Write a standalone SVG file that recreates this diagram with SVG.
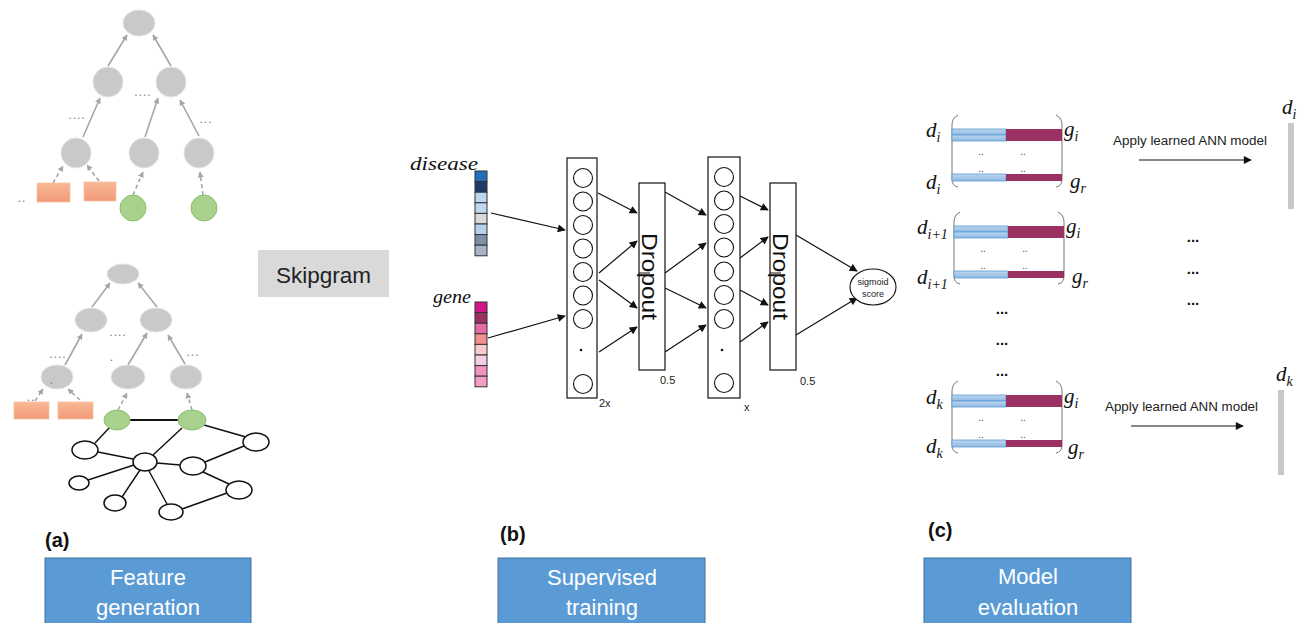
<svg xmlns="http://www.w3.org/2000/svg" width="1307" height="623" viewBox="0 0 1307 623">
<style>
.gn{fill:#c8c9cb;stroke:#e2e3e4;stroke-width:1}
.rc{fill:url(#salmon);stroke:#f7c2a6;stroke-width:0.8}
.gr{fill:#a9d18e;stroke:#8cbf6e;stroke-width:1}
.ga{stroke:#a6a6a6;stroke-width:1.6;fill:none;marker-end:url(#mg)}
.gd{stroke:#a6a6a6;stroke-width:1.6;fill:none;stroke-dasharray:4 3;marker-end:url(#mg)}
.dots{font-family:"Liberation Sans",Arial,sans-serif;font-size:12px;fill:#777;letter-spacing:1px;text-anchor:middle}
.wn{fill:#fff;stroke:#111;stroke-width:1.5}
.ed{stroke:#111;stroke-width:1.4;fill:none}
.box{fill:#fff;stroke:#111;stroke-width:1.2}
.cir{fill:#fff;stroke:#111;stroke-width:1.1}
.ba{stroke:#111;stroke-width:1.2;fill:none;marker-end:url(#mb)}
.sans{font-family:"Liberation Sans",Arial,sans-serif}
.math{font-family:"Liberation Serif","Times New Roman",serif;font-style:italic;fill:#111}
.blue{fill:url(#lb);stroke:#5b9bd5;stroke-width:0.8}
.maroon{fill:#9b3063}
.brk{fill:none;stroke:#777;stroke-width:1}
.sd{font-family:"Liberation Sans",Arial,sans-serif;font-size:10px;fill:#444;text-anchor:middle}
.ell{font-family:"Liberation Sans",Arial,sans-serif;font-size:15px;font-weight:bold;fill:#111;text-anchor:middle}
.stage{fill:#5b9bd5;stroke:#41719c;stroke-width:1}
.stxt{font-family:"Liberation Sans",Arial,sans-serif;font-size:22px;fill:#fff;text-anchor:middle}
.lbl{font-family:"Liberation Sans",Arial,sans-serif;font-size:20px;font-weight:bold;fill:#111}
</style>
<defs>
<marker id="mg" viewBox="0 0 10 10" refX="9" refY="5" markerWidth="6" markerHeight="6" markerUnits="userSpaceOnUse" orient="auto"><path d="M0,0 L10,5 L0,10 z" fill="#a6a6a6"/></marker>
<marker id="mb" viewBox="0 0 10 10" refX="9" refY="5" markerWidth="9" markerHeight="8" markerUnits="userSpaceOnUse" orient="auto"><path d="M0,0 L10,5 L0,10 z" fill="#111"/></marker>
<linearGradient id="salmon" x1="0" y1="0" x2="0" y2="1"><stop offset="0" stop-color="#f8b896"/><stop offset="1" stop-color="#f29a78"/></linearGradient>
<linearGradient id="lb" x1="0" y1="0" x2="0" y2="1"><stop offset="0" stop-color="#bdd7ee"/><stop offset="1" stop-color="#8fb8e2"/></linearGradient>
<g id="matrix">
<path class="brk" d="M6,0 Q0,3 0,10 L0,64 Q0,71 6,72"/>
<path class="brk" d="M104,0 Q110,3 110,10 L110,64 Q110,71 104,72"/>
<rect class="blue" x="0" y="14" width="54" height="6"/>
<rect class="blue" x="0" y="20" width="54" height="6"/>
<rect class="maroon" x="54" y="14" width="56" height="12"/>
<rect class="blue" x="0" y="59" width="54" height="7"/>
<rect class="maroon" x="54" y="59" width="56" height="7"/>
<text class="sd" x="29" y="40">..</text><text class="sd" x="71" y="40">..</text>
<text class="sd" x="29" y="57">..</text><text class="sd" x="71" y="57">..</text>
</g>
</defs>

<g id="connectors">
<!-- top tree -->
<line class="ga" x1="108" y1="66" x2="127" y2="35"/>
<line class="ga" x1="171" y1="66" x2="153" y2="35"/>
<line class="ga" x1="83" y1="137" x2="100" y2="98"/>
<line class="ga" x1="145" y1="137" x2="158" y2="98"/>
<line class="ga" x1="199" y1="136" x2="180" y2="100"/>
<line class="gd" x1="53" y1="183" x2="63" y2="166"/>
<line class="gd" x1="99" y1="181" x2="87" y2="165"/>
<line class="gd" x1="133" y1="195" x2="143" y2="172"/>
<line class="gd" x1="203" y1="195" x2="200" y2="172"/>
<!-- bottom tree -->
<line class="ga" x1="92" y1="307" x2="110" y2="283"/>
<line class="ga" x1="157" y1="307" x2="138" y2="283"/>
<line class="ga" x1="65" y1="365" x2="82" y2="334"/>
<line class="ga" x1="128" y1="365" x2="147" y2="333"/>
<line class="ga" x1="185" y1="364" x2="168" y2="335"/>
<line class="gd" x1="35" y1="401" x2="43" y2="389"/>
<line class="gd" x1="80" y1="400" x2="68" y2="389"/>
<line class="gd" x1="118" y1="410" x2="127" y2="393"/>
<line class="gd" x1="192" y1="410" x2="187" y2="393"/>
<!-- network edges -->
<line x1="130" y1="420" x2="178" y2="420" stroke="#111" stroke-width="2"/>
<line class="ed" x1="110" y1="427" x2="95" y2="443"/>
<line class="ed" x1="182" y1="428" x2="153" y2="455"/>
<line class="ed" x1="204" y1="425" x2="246" y2="437"/>
<line class="ed" x1="98" y1="452" x2="133" y2="459"/>
<line class="ed" x1="157" y1="463" x2="180" y2="465"/>
<line class="ed" x1="205" y1="462" x2="244" y2="446"/>
<line class="ed" x1="134" y1="465" x2="88" y2="480"/>
<line class="ed" x1="140" y1="470" x2="122" y2="497"/>
<line class="ed" x1="149" y1="471" x2="167" y2="504"/>
<line class="ed" x1="203" y1="472" x2="229" y2="484"/>
<line class="ed" x1="182" y1="509" x2="227" y2="493"/>
<!-- panel b -->
<line class="ba" x1="491" y1="213" x2="565" y2="230"/>
<line class="ba" x1="488" y1="338" x2="565" y2="316"/>
<line class="ba" x1="598" y1="193" x2="637" y2="213"/>
<line class="ba" x1="599" y1="273" x2="637" y2="241"/>
<line class="ba" x1="599" y1="280" x2="637" y2="308"/>
<line class="ba" x1="599" y1="352" x2="637" y2="327"/>
<line class="ba" x1="665" y1="192" x2="706" y2="215"/>
<line class="ba" x1="665" y1="273" x2="706" y2="243"/>
<line class="ba" x1="665" y1="288" x2="706" y2="308"/>
<line class="ba" x1="665" y1="352" x2="706" y2="325"/>
<line class="ba" x1="740" y1="196" x2="768" y2="210"/>
<line class="ba" x1="740" y1="258" x2="768" y2="237"/>
<line class="ba" x1="740" y1="290" x2="768" y2="305"/>
<line class="ba" x1="740" y1="342" x2="768" y2="322"/>
<line class="ba" x1="796" y1="235" x2="857" y2="271"/>
<line class="ba" x1="796" y1="335" x2="857" y2="298"/>
<!-- panel c -->
<line class="ba" x1="1139" y1="160" x2="1251" y2="160"/>
<line class="ba" x1="1131" y1="426" x2="1243" y2="426"/>
</g>

<!-- Panel a: top tree -->
<g id="tree-top">
<g id="t1-root"><ellipse class="gn" cx="139" cy="23" rx="16" ry="13"/></g>
<g id="t1-l2a"><circle class="gn" cx="108" cy="82" r="15"/></g>
<g id="t1-l2b"><circle class="gn" cx="171" cy="82" r="15"/></g>
<g id="t1-l3a"><circle class="gn" cx="76" cy="153" r="15"/></g>
<g id="t1-l3b"><circle class="gn" cx="144" cy="153" r="15"/></g>
<g id="t1-l3c"><circle class="gn" cx="199" cy="153" r="15"/></g>
<g id="t1-r1"><rect class="rc" x="37" y="183" width="33" height="19"/></g>
<g id="t1-r2"><rect class="rc" x="84" y="182" width="32" height="19"/></g>
<g id="t1-g1"><circle class="gr" cx="133" cy="208" r="13"/></g>
<g id="t1-g2"><circle class="gr" cx="204" cy="208" r="13"/></g>
<text class="dots" x="77" y="119">....</text>
<text class="dots" x="143" y="96">....</text>
<text class="dots" x="206" y="123">...</text>
<text class="dots" x="22" y="202">..</text>
</g>

<!-- Panel a: bottom tree + network -->
<g id="tree-bottom">
<g id="t2-root"><ellipse class="gn" cx="123" cy="274" rx="16" ry="10"/></g>
<g id="t2-l2a"><ellipse class="gn" cx="91" cy="320" rx="16" ry="12"/></g>
<g id="t2-l2b"><ellipse class="gn" cx="156" cy="320" rx="16" ry="12"/></g>
<g id="t2-l3a"><ellipse class="gn" cx="57" cy="377" rx="16" ry="12"/></g>
<g id="t2-l3b"><ellipse class="gn" cx="128" cy="377" rx="17" ry="12"/></g>
<g id="t2-l3c"><ellipse class="gn" cx="186" cy="377" rx="16" ry="12"/></g>
<g id="t2-r1"><rect class="rc" x="14" y="402" width="35" height="17"/></g>
<g id="t2-r2"><rect class="rc" x="58" y="402" width="35" height="17"/></g>
<g id="t2-g1"><ellipse class="gr" cx="117" cy="420" rx="13" ry="10"/></g>
<g id="t2-g2"><ellipse class="gr" cx="192" cy="420" rx="14" ry="10"/></g>
<text class="dots" x="58" y="358">....</text>
<text class="dots" x="118" y="336">....</text>
<text class="dots" x="112" y="361">.</text>
<text class="dots" x="193" y="356">...</text>
<text class="dots" x="52" y="384">.</text>
<text class="dots" x="31" y="401">..</text>
</g>

<g id="network">
<g id="nA"><ellipse class="wn" cx="85" cy="450" rx="13" ry="9"/></g>
<g id="nB"><ellipse class="wn" cx="145" cy="462" rx="12" ry="9"/></g>
<g id="nC"><ellipse class="wn" cx="193" cy="466" rx="13" ry="9"/></g>
<g id="nD"><ellipse class="wn" cx="256" cy="442" rx="13" ry="9"/></g>
<g id="nE"><ellipse class="wn" cx="79" cy="483" rx="10" ry="7"/></g>
<g id="nF"><ellipse class="wn" cx="115" cy="503" rx="11" ry="8"/></g>
<g id="nG"><ellipse class="wn" cx="239" cy="490" rx="13" ry="9"/></g>
<g id="nH"><ellipse class="wn" cx="171" cy="512" rx="12" ry="8"/></g>
</g>

<g id="skipgram">
<rect x="258" y="250" width="131" height="47" fill="#d9d9d9"/>
<text class="sans" x="323.5" y="283" font-size="22.5" fill="#222" text-anchor="middle">Skipgram</text>
</g>

<!-- Panel b -->
<g id="disease-vec">
<text class="math" x="410" y="170" font-size="19" textLength="68" lengthAdjust="spacingAndGlyphs">disease</text>
<g stroke="#333" stroke-width="1">
<rect x="475" y="171" width="12" height="10.6" fill="#1f70b8"/>
<rect x="475" y="181.6" width="12" height="10.6" fill="#1c3b6c"/>
<rect x="475" y="192.2" width="12" height="10.6" fill="#bdd7ee"/>
<rect x="475" y="202.8" width="12" height="10.6" fill="#bdd7ee"/>
<rect x="475" y="213.4" width="12" height="10.6" fill="#d9d9d9"/>
<rect x="475" y="224" width="12" height="10.6" fill="#b4d2ee"/>
<rect x="475" y="234.6" width="12" height="10.6" fill="#7e8fa8"/>
<rect x="475" y="245.2" width="12" height="10.6" fill="#a9b5c7"/>
</g>
</g>
<g id="gene-vec">
<text class="math" x="433" y="303" font-size="19" textLength="38" lengthAdjust="spacingAndGlyphs">gene</text>
<g stroke="#333" stroke-width="1">
<rect x="475" y="302" width="12" height="10.6" fill="#d4168b"/>
<rect x="475" y="312.6" width="12" height="10.6" fill="#9c3064"/>
<rect x="475" y="323.2" width="12" height="10.6" fill="#e56aa8"/>
<rect x="475" y="333.8" width="12" height="10.6" fill="#f4908f"/>
<rect x="475" y="344.4" width="12" height="10.6" fill="#f8cccc"/>
<rect x="475" y="355" width="12" height="10.6" fill="#f2d0e2"/>
<rect x="475" y="365.6" width="12" height="10.6" fill="#f292c0"/>
<rect x="475" y="376.2" width="12" height="10.6" fill="#f29cc8"/>
</g>
</g>

<g id="layer1">
<rect class="box" x="567" y="158" width="30" height="240"/>
<circle class="cir" cx="583" cy="178" r="9.5"/>
<circle class="cir" cx="583" cy="201.5" r="9.5"/>
<circle class="cir" cx="583" cy="225" r="9.5"/>
<circle class="cir" cx="583" cy="248.5" r="9.5"/>
<circle class="cir" cx="583" cy="272" r="9.5"/>
<circle class="cir" cx="583" cy="295.5" r="9.5"/>
<circle class="cir" cx="583" cy="319" r="9.5"/>
<circle cx="581" cy="350" r="1.3" fill="#111"/>
<circle class="cir" cx="583" cy="384" r="9.5"/>
<text class="sans" x="599" y="407" font-size="11" fill="#222">2x</text>
</g>

<g id="dropout1">
<rect class="box" x="639" y="183" width="26" height="187"/>
<line x1="639" y1="273" x2="650" y2="273" stroke="#111" stroke-width="1"/>
<text class="sans" transform="translate(642 276.5) rotate(90)" font-size="22" fill="#111" text-anchor="middle" textLength="87" lengthAdjust="spacingAndGlyphs">Dropout</text>
<text class="sans" x="660" y="384" font-size="11" fill="#222">0.5</text>
</g>

<g id="layer2">
<rect class="box" x="708" y="157" width="32" height="241"/>
<circle class="cir" cx="724" cy="177" r="9.5"/>
<circle class="cir" cx="724" cy="200.5" r="9.5"/>
<circle class="cir" cx="724" cy="224" r="9.5"/>
<circle class="cir" cx="724" cy="247.5" r="9.5"/>
<circle class="cir" cx="724" cy="271.5" r="9.5"/>
<circle class="cir" cx="724" cy="295" r="9.5"/>
<circle class="cir" cx="724" cy="319" r="9.5"/>
<circle cx="722" cy="350" r="1.3" fill="#111"/>
<circle class="cir" cx="724" cy="383" r="9.5"/>
<text class="sans" x="744" y="411" font-size="11" fill="#222">x</text>
</g>

<g id="dropout2">
<rect class="box" x="770" y="183" width="26" height="187"/>
<line x1="770" y1="273" x2="781" y2="273" stroke="#111" stroke-width="1"/>
<text class="sans" transform="translate(773 276.5) rotate(90)" font-size="22" fill="#111" text-anchor="middle" textLength="87" lengthAdjust="spacingAndGlyphs">Dropout</text>
<text class="sans" x="800" y="385" font-size="11" fill="#222">0.5</text>
</g>

<g id="sigmoid">
<ellipse cx="873" cy="287" rx="23" ry="18" fill="#fff" stroke="#111" stroke-width="1.1"/>
<text class="sans" x="873" y="285" font-size="9" fill="#222" text-anchor="middle">sigmoid</text>
<text class="sans" x="873" y="297" font-size="9" fill="#222" text-anchor="middle">score</text>
</g>

<!-- Panel c -->
<g id="matrix-i">
<use href="#matrix" x="952" y="115"/>
<text class="math" x="926" y="137" font-size="21">d<tspan font-size="14" dy="5">i</tspan></text>
<text class="math" x="1064" y="136" font-size="21">g<tspan font-size="14" dy="5">i</tspan></text>
<text class="math" x="926" y="189" font-size="21">d<tspan font-size="14" dy="5">i</tspan></text>
<text class="math" x="1070" y="188" font-size="21">g<tspan font-size="14" dy="5">r</tspan></text>
</g>
<g id="matrix-i1">
<use href="#matrix" x="954" y="212"/>
<text class="math" x="917" y="234" font-size="21">d<tspan font-size="14" dy="5">i+1</tspan></text>
<text class="math" x="1066" y="233" font-size="21">g<tspan font-size="14" dy="5">i</tspan></text>
<text class="math" x="917" y="284" font-size="21">d<tspan font-size="14" dy="5">i+1</tspan></text>
<text class="math" x="1072" y="283" font-size="21">g<tspan font-size="14" dy="5">r</tspan></text>
</g>
<g id="ellipses-mid">
<text class="ell" x="1002" y="314">...</text>
<text class="ell" x="1002" y="345">...</text>
<text class="ell" x="1002" y="376">...</text>
<text class="ell" x="1193" y="242">...</text>
<text class="ell" x="1193" y="274">...</text>
<text class="ell" x="1193" y="305">...</text>
</g>
<g id="matrix-k">
<use href="#matrix" x="952" y="381"/>
<text class="math" x="926" y="404" font-size="21">d<tspan font-size="14" dy="5">k</tspan></text>
<text class="math" x="1064" y="403" font-size="21">g<tspan font-size="14" dy="5">i</tspan></text>
<text class="math" x="926" y="453" font-size="21">d<tspan font-size="14" dy="5">k</tspan></text>
<text class="math" x="1068" y="454" font-size="21">g<tspan font-size="14" dy="5">r</tspan></text>
</g>
<g id="apply-i">
<text class="sans" x="1113" y="145" font-size="12.5" fill="#222" textLength="154" lengthAdjust="spacingAndGlyphs">Apply learned ANN model</text>
</g>
<g id="out-i">
<text class="math" x="1282" y="114" font-size="21">d<tspan font-size="14" dy="5">i</tspan></text>
<rect x="1288" y="123" width="6" height="86" fill="#c8c8c8"/>
</g>
<g id="apply-k">
<text class="sans" x="1105" y="411" font-size="12.5" fill="#222" textLength="153" lengthAdjust="spacingAndGlyphs">Apply learned ANN model</text>
</g>
<g id="out-k">
<text class="math" x="1276" y="381" font-size="21">d<tspan font-size="14" dy="5">k</tspan></text>
<rect x="1278" y="390" width="6" height="85" fill="#c8c8c8"/>
</g>

<!-- Stage labels -->
<g id="stage-a">
<text class="lbl" x="45" y="547">(a)</text>
<rect class="stage" x="45" y="558" width="206" height="70"/>
<text class="stxt" x="148" y="585">Feature</text>
<text class="stxt" x="148" y="615">generation</text>
</g>
<g id="stage-b">
<text class="lbl" x="500" y="541">(b)</text>
<rect class="stage" x="498" y="558" width="207" height="70"/>
<text class="stxt" x="602" y="585">Supervised</text>
<text class="stxt" x="602" y="615">training</text>
</g>
<g id="stage-c">
<text class="lbl" x="928" y="537">(c)</text>
<rect class="stage" x="924" y="558" width="207" height="70"/>
<text class="stxt" x="1028" y="584">Model</text>
<text class="stxt" x="1028" y="615">evaluation</text>
</g>
</svg>
